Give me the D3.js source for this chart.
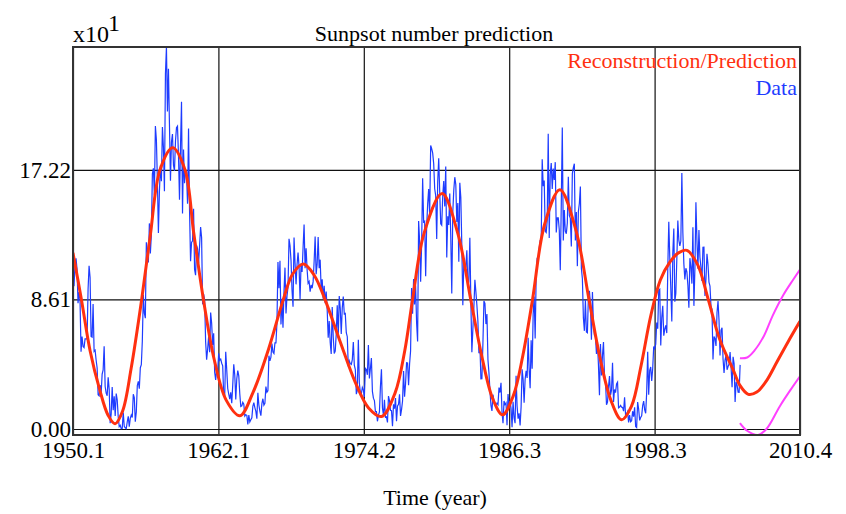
<!DOCTYPE html>
<html><head><meta charset="utf-8">
<script src="https://cdn.jsdelivr.net/npm/d3@7"></script>
<style>body{margin:0;background:#fff}svg{display:block}</style>
</head><body>
<svg id="chart" width="846" height="514"></svg>
<script>
// Monthly sunspot numbers, Jan 1950 .. May 2005 (x = year + month/12)
const dataStartYear = 1950;
const sunspotMonthly = [
101.6,94.8,109.7,113.4,106.2,83.6,91.0,85.2,51.3,61.4,54.8,54.1,
59.9,59.9,59.9,92.9,108.5,100.6,61.5,61.0,83.1,51.6,52.4,45.8,
40.7,22.7,22.0,29.1,23.4,36.4,39.3,54.9,28.2,23.8,22.1,34.3,
26.5,3.9,10.0,27.8,12.5,21.8,8.6,23.5,19.3,8.2,1.6,2.5,
0.2,0.5,10.9,1.8,0.8,0.2,4.8,8.4,1.5,7.0,9.2,7.6,
23.1,20.8,4.9,11.3,28.9,31.7,26.7,40.7,42.7,58.5,89.2,76.9,
73.6,124.0,118.4,110.7,136.6,116.6,129.1,169.6,173.2,155.3,201.3,192.1,
165.0,130.2,157.4,175.2,164.6,200.7,187.2,158.0,235.8,253.8,210.9,239.4,
202.5,164.9,190.7,196.0,175.3,171.5,191.4,200.2,201.2,181.5,152.3,187.6,
217.4,143.1,185.7,163.3,172.0,168.7,149.6,199.6,145.2,111.4,124.0,125.0,
146.3,106.0,102.2,122.0,119.6,110.2,121.7,134.1,127.2,82.8,89.6,85.6,
57.9,46.1,53.0,61.4,51.0,77.4,70.2,55.9,63.6,37.7,32.6,40.0,
38.7,50.3,45.6,46.4,43.7,42.0,21.8,21.8,51.3,39.5,26.9,23.2,
19.8,24.4,17.1,29.3,43.0,35.9,19.6,33.2,38.8,35.3,23.4,14.9,
15.3,17.7,16.5,8.6,9.5,9.1,3.1,9.3,4.7,6.1,7.4,15.1,
17.5,14.2,11.7,6.8,24.1,15.9,11.9,8.9,16.8,20.1,15.8,17.0,
28.2,24.4,25.3,48.7,45.3,47.7,56.7,51.2,50.2,57.2,57.2,70.4,
110.9,93.6,111.8,69.5,86.5,67.3,91.5,107.2,76.8,88.2,94.3,126.4,
121.8,111.9,92.2,81.2,127.2,110.3,96.1,109.3,117.2,107.7,86.0,109.8,
104.4,120.5,135.8,106.8,120.0,106.0,96.8,98.0,91.3,95.7,93.5,97.9,
111.5,127.8,102.9,109.5,127.5,106.8,112.5,93.0,99.5,86.6,95.2,83.5,
91.3,79.0,60.7,71.8,57.5,49.8,81.0,61.4,50.2,51.7,63.2,82.2,
61.5,88.4,80.1,63.2,80.5,88.0,76.5,76.8,64.0,61.3,41.6,45.3,
43.4,42.9,46.0,57.7,42.4,39.5,23.1,25.6,59.3,30.7,23.9,23.3,
27.6,26.0,21.3,40.3,39.5,36.0,55.8,33.6,40.2,47.1,25.0,20.5,
18.9,11.5,11.5,5.1,9.0,11.4,28.2,39.7,13.9,9.1,19.4,7.8,
8.1,4.3,21.9,18.8,12.4,12.2,1.9,16.4,13.5,20.6,5.2,15.3,
16.4,23.1,8.7,12.9,18.6,38.5,21.4,30.1,44.0,43.8,29.1,43.2,
51.9,93.6,76.5,99.7,82.7,95.1,70.4,58.1,138.2,125.1,97.9,122.7,
166.6,137.5,138.0,101.5,134.4,149.5,159.4,142.2,188.4,186.2,183.3,176.3,
159.6,155.0,126.2,164.1,179.9,157.3,136.3,135.4,155.0,164.7,147.9,174.4,
114.0,141.3,135.5,156.4,127.5,90.0,143.8,158.7,167.3,162.4,137.5,150.1,
111.2,163.6,153.8,122.0,82.2,110.4,106.1,107.6,118.8,94.7,98.1,127.0,
84.3,51.0,66.5,80.7,99.2,91.1,82.2,71.8,50.3,55.8,33.3,33.4,
57.0,85.1,83.5,69.7,76.4,46.1,37.4,25.5,15.7,12.0,22.8,18.7,
16.5,15.9,17.2,16.2,27.5,24.2,30.7,11.1,3.9,18.6,16.2,17.3,
2.5,23.2,15.1,18.5,13.7,1.1,18.1,7.4,3.8,35.4,15.2,6.8,
10.4,2.4,14.7,39.6,33.0,17.4,33.0,38.7,33.9,60.6,39.9,27.1,
59.0,40.0,76.2,88.0,60.1,101.8,113.8,111.6,120.1,125.1,125.1,179.2,
161.3,165.1,131.4,130.6,138.5,196.2,126.9,168.9,176.7,159.4,173.0,165.5,
177.3,130.5,140.3,140.3,132.2,105.4,149.4,200.3,125.2,145.5,131.4,129.7,
136.9,167.5,141.9,140.0,121.3,169.7,173.7,176.3,125.3,144.1,108.2,144.4,
150.0,161.1,106.7,99.8,73.8,65.2,85.7,64.5,63.9,88.7,91.8,82.6,
59.3,91.0,69.8,62.2,61.3,49.8,57.9,42.2,22.4,56.4,35.6,48.9,
57.8,35.5,31.7,16.1,17.8,28.0,35.1,22.5,25.7,44.0,18.0,26.2,
24.2,29.9,31.1,14.0,14.5,15.6,14.5,14.3,11.8,21.1,9.0,10.0,
11.5,4.4,9.2,4.8,5.5,11.8,8.2,14.4,1.6,0.9,17.9,13.3,
5.7,7.6,8.7,15.5,18.5,12.7,10.4,24.4,51.3,22.8,39.0,41.2,
31.9,40.3,54.8,53.4,56.3,70.7,66.6,92.2,92.9,55.5,74.0,81.9,
62.0,66.3,68.8,63.7,106.4,137.7,113.5,93.7,71.5,116.7,133.2,84.6,
90.1,112.9,138.5,125.5,121.6,124.9,170.1,130.5,109.7,99.4,106.8,104.4,
95.6,80.6,113.5,107.7,96.6,134.0,81.8,106.4,150.7,125.5,106.5,132.2,
114.1,107.4,98.4,120.7,120.8,88.3,99.6,116.4,109.6,97.5,95.0,81.6,
79.5,46.2,61.5,60.0,55.2,77.4,85.0,72.1,48.8,65.6,67.2,46.5,
37.3,45.8,49.1,39.3,41.5,43.2,51.1,40.9,27.7,48.0,43.5,17.9,
31.3,29.2,24.5,24.4,42.6
];

// Reconstruction / prediction curve (units of x10)
const reconYears = [1950.08,1950.78,1951.5,1952.3,1953.0,1953.57,1954.2,1954.9,1955.78,1956.5,1957.3,1958.35,1959.37,1960.1,1960.9,1961.8,1962.8,1963.93,1965.0,1966.3,1967.53,1968.3,1969.2,1970.1,1970.98,1972.2,1973.5,1974.6,1975.68,1976.8,1977.6,1978.25,1979.2,1980.7,1982.0,1983.07,1984.0,1984.9,1985.72,1986.6,1987.4,1988.2,1989.2,1990.47,1991.8,1992.88,1993.8,1994.7,1995.58,1996.4,1997.2,1998.0,1998.8,1999.6,2000.3,2001.0,2001.9,2002.77,2003.73,2004.84,2005.4,2006.1,2006.8,2007.6,2008.5,2009.4,2010.38];
const reconValues = [11.7,8.61,5.2,2.6,0.9,0.35,1.2,4.0,8.61,12.9,17.22,18.68,17.22,13.0,8.61,4.6,1.9,0.88,2.4,5.3,8.61,10.3,10.96,10.2,8.61,5.9,3.1,1.4,0.83,2.4,5.2,8.61,13.0,15.64,13.0,8.61,4.8,2.0,0.94,2.2,4.9,8.61,13.6,15.9,13.2,8.61,4.7,1.9,0.61,1.5,4.2,7.5,9.9,11.1,11.7,11.87,10.9,8.61,5.94,3.93,2.9,2.3,2.45,3.2,4.5,5.8,7.15];

// Prediction bounds (units of x10)
const upperYears = [2005.4,2006.0,2006.6,2007.4,2008.1,2009.0,2009.8,2010.38];
const upperValues = [4.7,4.75,5.2,6.2,7.5,8.9,9.9,10.6];
const lowerYears = [2005.4,2006.0,2006.9,2007.6,2008.7,2009.6,2010.38];
const lowerValues = [0.39,-0.12,-0.4,0.0,1.5,2.6,3.5];

const xTickValues = [1950.083,1962.143,1974.203,1986.263,1998.323,2010.383];
const xTickLabels = ["1950.1","1962.1","1974.2","1986.3","1998.3","2010.4"];
const yTickValues = [0,8.61,17.22];
const yTickLabels = ["0.00","8.61","17.22"];

const svg = d3.select("#chart");
const L = 73, R = 800, T = 47, B = 435;
const FONT = "'Liberation Serif','Times New Roman',serif";

const x = d3.scaleLinear().domain([1950.083, 2010.383]).range([L, R]);
const y = d3.scaleLinear().domain([-0.4, 25.38]).range([B, T]);

svg.append("defs").append("clipPath").attr("id","clip")
  .append("rect").attr("x",L).attr("y",T).attr("width",R-L).attr("height",B-T);

// grid + labels
const gx = svg.append("g").attr("transform",`translate(0,${B})`)
  .call(d3.axisBottom(x).tickValues(xTickValues).tickSize(-(B-T)).tickPadding(7)
    .tickFormat((d,i)=>xTickLabels[i]));
gx.select(".domain").remove();
gx.selectAll("line").attr("stroke","#111").attr("stroke-width",1.2);
gx.selectAll("text").attr("font-family",FONT).attr("font-size",23).attr("fill","#000");

const gy = svg.append("g").attr("transform",`translate(${L},0)`)
  .call(d3.axisLeft(y).tickValues(yTickValues).tickSize(-(R-L)).tickPadding(2)
    .tickFormat((d,i)=>yTickLabels[i]));
gy.select(".domain").remove();
gy.selectAll("line").attr("stroke","#111").attr("stroke-width",1.2);
gy.selectAll("text").attr("font-family",FONT).attr("font-size",23).attr("fill","#000");

const plot = svg.append("g").attr("clip-path","url(#clip)");

const dataPts = sunspotMonthly.map((v,i)=>[dataStartYear + (i+1)/12, v/10]);
plot.append("path").datum(dataPts)
  .attr("fill","none").attr("stroke","#1e3cff").attr("stroke-width",1.2)
  .attr("d", d3.line().x(d=>x(d[0])).y(d=>y(d[1])));

const curve = d3.curveCatmullRom.alpha(0.5);
const mk = (xs,vs)=>xs.map((t,i)=>[t,vs[i]]);
plot.append("path").datum(mk(upperYears,upperValues))
  .attr("fill","none").attr("stroke","#ff40ff").attr("stroke-width",2)
  .attr("d", d3.line().curve(curve).x(d=>x(d[0])).y(d=>y(d[1])));
plot.append("path").datum(mk(lowerYears,lowerValues))
  .attr("fill","none").attr("stroke","#ff40ff").attr("stroke-width",2)
  .attr("d", d3.line().curve(curve).x(d=>x(d[0])).y(d=>y(d[1])));
plot.append("path").datum(mk(reconYears,reconValues))
  .attr("fill","none").attr("stroke","#ff3010").attr("stroke-width",3)
  .attr("d", d3.line().curve(curve).x(d=>x(d[0])).y(d=>y(d[1])));

// frame
svg.append("rect").attr("x",L).attr("y",T).attr("width",R-L).attr("height",B-T)
  .attr("fill","none").attr("stroke","#333").attr("stroke-width",2);

// texts
svg.append("text").attr("x",434).attr("y",41).attr("text-anchor","middle")
  .attr("font-family",FONT).attr("font-size",22).text("Sunpsot number prediction");
svg.append("text").attr("x",73).attr("y",42)
  .attr("font-family",FONT).attr("font-size",24).text("x10");
svg.append("text").attr("x",108).attr("y",31)
  .attr("font-family",FONT).attr("font-size",24).text("1");
svg.append("text").attr("x",797).attr("y",68).attr("text-anchor","end")
  .attr("font-family",FONT).attr("font-size",22).attr("fill","#ff3010").text("Reconstruction/Prediction");
svg.append("text").attr("x",797).attr("y",95).attr("text-anchor","end")
  .attr("font-family",FONT).attr("font-size",22).attr("fill","#1e3cff").text("Data");
svg.append("text").attr("x",435).attr("y",505).attr("text-anchor","middle")
  .attr("font-family",FONT).attr("font-size",22).text("Time (year)");
</script>
</body></html>
